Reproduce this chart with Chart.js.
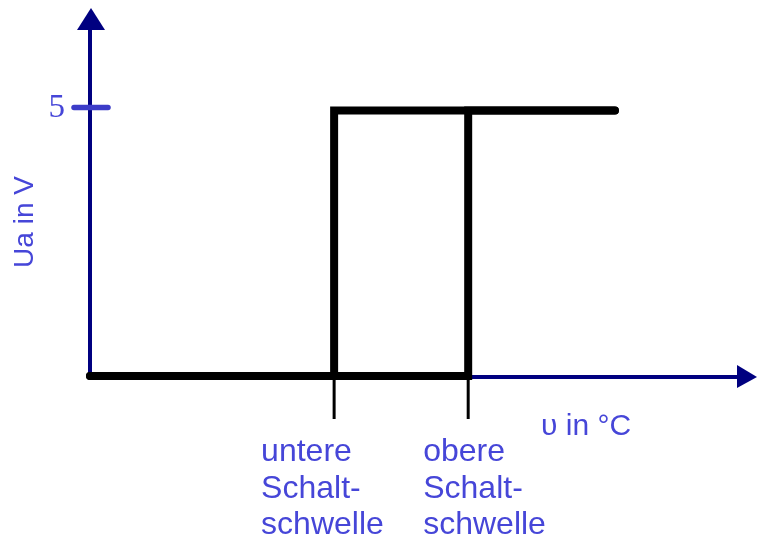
<!DOCTYPE html>
<html>
<head>
<meta charset="utf-8">
<script src="https://cdn.jsdelivr.net/npm/chart.js@4"></script>
<style>
  html, body { margin: 0; padding: 0; background: #fff; }
  #wrap { width: 759px; height: 544px; }
</style>
</head>
<body>
<div id="wrap"><canvas id="hyst" width="759" height="544"></canvas></div>
<script>
// Schalthysterese: Ausgangsspannung Ua über Temperatur
const lowerThreshold = 3.66;   // untere Schaltschwelle
const upperThreshold = 5.67;   // obere Schaltschwelle
const heatingX = [0, 5.67, 5.67, 7.87];
const heatingY = [0, 0, 5, 5];
const coolingX = [7.87, 3.66, 3.66, 0];
const coolingY = [5, 5, 0, 0];
const yTickValues = [5];
const thresholdValues = [lowerThreshold, upperThreshold];
const thresholdLabels = [
  ['untere', 'Schalt-', 'schwelle'],
  ['obere', 'Schalt-', 'schwelle'],
];
const xTitle = 'υ in °C';
const yTitle = 'Ua in V';

const AXIS = '#000080';
const TEXT = '#4646d8';
const SANS = '"Liberation Sans", Arial, sans-serif';

const toPoints = (xs, ys) => xs.map((x, i) => ({ x, y: ys[i] }));

const axesPlugin = {
  id: 'axes',
  beforeDatasetsDraw(chart) {
    const { ctx, chartArea, scales } = chart;
    const x0 = scales.x.getPixelForValue(0);
    const y0 = scales.y.getPixelForValue(0);
    ctx.save();

    // axis lines
    ctx.strokeStyle = AXIS;
    ctx.lineWidth = 4;
    ctx.beginPath();
    ctx.moveTo(x0, y0 + 1);
    ctx.lineTo(x0, chartArea.top + 20);
    ctx.moveTo(x0, y0 + 1);
    ctx.lineTo(chartArea.right - 18, y0 + 1);
    ctx.stroke();

    // arrow heads
    ctx.fillStyle = AXIS;
    ctx.beginPath();
    ctx.moveTo(x0 + 1, chartArea.top);
    ctx.lineTo(x0 - 13, chartArea.top + 22);
    ctx.lineTo(x0 + 15, chartArea.top + 22);
    ctx.closePath();
    ctx.fill();
    ctx.beginPath();
    ctx.moveTo(chartArea.right, y0 + 1);
    ctx.lineTo(chartArea.right - 20, y0 - 11);
    ctx.lineTo(chartArea.right - 20, y0 + 12);
    ctx.closePath();
    ctx.fill();

    // y ticks
    yTickValues.forEach((v) => {
      const y = scales.y.getPixelForValue(v) - 3;
      ctx.strokeStyle = '#3c3cc8';
      ctx.lineWidth = 5.5;
      ctx.lineCap = 'round';
      ctx.beginPath();
      ctx.moveTo(x0 - 16, y);
      ctx.lineTo(x0 + 18, y);
      ctx.stroke();
      ctx.fillStyle = TEXT;
      ctx.font = '33px "Liberation Serif", serif';
      ctx.textAlign = 'right';
      ctx.textBaseline = 'middle';
      ctx.fillText(String(v), x0 - 25, y + 1);
    });

    // threshold markers
    ctx.strokeStyle = '#000';
    ctx.lineWidth = 3;
    ctx.lineCap = 'butt';
    thresholdValues.forEach((v) => {
      const x = scales.x.getPixelForValue(v);
      ctx.beginPath();
      ctx.moveTo(x, y0);
      ctx.lineTo(x, y0 + 43);
      ctx.stroke();
    });

    // threshold labels
    ctx.fillStyle = TEXT;
    ctx.font = '32px ' + SANS;
    ctx.textAlign = 'left';
    ctx.textBaseline = 'alphabetic';
    const offsets = [-73, -45];
    thresholdValues.forEach((v, i) => {
      const x = scales.x.getPixelForValue(v) + offsets[i];
      thresholdLabels[i].forEach((line, j) => {
        ctx.fillText(line, x, y0 + 85 + j * 36.5);
      });
    });

    // axis titles
    ctx.font = '30px ' + SANS;
    ctx.fillText(xTitle, 541, 435);

    ctx.save();
    ctx.translate(33, 222);
    ctx.rotate(-Math.PI / 2);
    ctx.font = '28px ' + SANS;
    ctx.textAlign = 'center';
    ctx.fillText(yTitle, 0, 0);
    ctx.restore();

    ctx.restore();
  },
};

const lineStyle = {
  borderColor: '#000',
  borderWidth: 8,
  borderJoinStyle: 'miter',
  borderCapStyle: 'round',
  pointRadius: 0,
  showLine: true,
  fill: false,
  tension: 0,
  clip: false,
};

new Chart(document.getElementById('hyst'), {
  type: 'scatter',
  data: {
    datasets: [
      { label: 'Erwärmen', data: toPoints(heatingX, heatingY), ...lineStyle },
      { label: 'Abkühlen', data: toPoints(coolingX, coolingY), ...lineStyle },
    ],
  },
  options: {
    responsive: false,
    animation: false,
    devicePixelRatio: 1,
    layout: { padding: { left: 90, right: 2, top: 8, bottom: 168 } },
    plugins: { legend: { display: false }, tooltip: { enabled: false } },
    scales: {
      x: { type: 'linear', min: 0, max: 10, display: false },
      y: { type: 'linear', min: 0, max: 6.93, display: false },
    },
  },
  plugins: [axesPlugin],
});
</script>
</body>
</html>
